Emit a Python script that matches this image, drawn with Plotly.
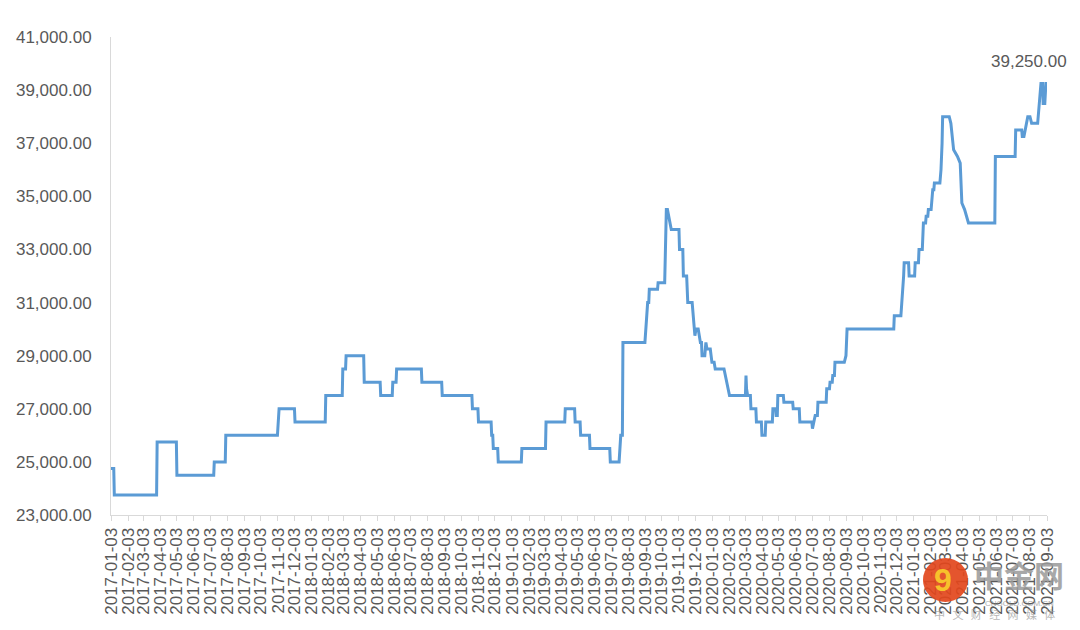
import plotly.graph_objects as go

# daily price path (change points only)
dates = [
    # 2017
    "2017-01-03", "2017-01-08", "2017-01-09", "2017-03-27", "2017-03-28", "2017-05-02",
    "2017-05-03", "2017-07-09", "2017-07-10", "2017-07-30", "2017-07-31", "2017-11-02",
    "2017-11-05", "2017-12-03", "2017-12-04",
    # 2018
    "2018-01-28", "2018-01-29", "2018-02-28", "2018-03-01", "2018-03-06", "2018-03-07",
    "2018-04-08", "2018-04-09", "2018-05-08", "2018-05-09", "2018-05-30", "2018-05-31",
    "2018-06-06", "2018-06-07", "2018-07-22", "2018-07-23", "2018-08-28", "2018-08-29",
    "2018-10-22", "2018-10-23", "2018-11-02", "2018-11-03", "2018-11-26", "2018-11-27",
    "2018-11-29", "2018-11-30", "2018-12-08", "2018-12-09",
    # 2019
    "2019-01-20", "2019-01-21", "2019-03-05", "2019-03-06", "2019-04-09", "2019-04-10",
    "2019-04-27", "2019-04-28", "2019-05-07", "2019-05-08", "2019-05-24", "2019-05-25",
    "2019-06-30", "2019-07-01", "2019-07-17", "2019-07-20", "2019-07-23", "2019-07-24",
    "2019-09-02", "2019-09-07", "2019-09-09", "2019-09-10", "2019-09-25", "2019-09-26",
    "2019-10-08", "2019-10-11", "2019-10-13", "2019-10-20", "2019-11-03", "2019-11-04",
    "2019-11-10", "2019-11-11", "2019-11-17", "2019-11-18", "2019-11-19", "2019-11-27",
    "2019-11-29", "2019-12-02", "2019-12-04", "2019-12-08", "2019-12-10", "2019-12-12",
    "2019-12-14", "2019-12-15", "2019-12-20", "2019-12-22", "2019-12-24", "2019-12-30",
    # 2020
    "2020-01-02", "2020-01-06", "2020-01-08", "2020-01-24", "2020-02-03", "2020-03-03",
    "2020-03-04", "2020-03-05", "2020-03-07", "2020-03-12", "2020-03-13", "2020-03-22",
    "2020-03-23", "2020-04-01", "2020-04-02", "2020-04-08", "2020-04-09", "2020-04-21",
    "2020-04-22", "2020-04-27", "2020-04-28", "2020-04-30", "2020-05-01", "2020-05-11",
    "2020-05-12", "2020-05-28", "2020-05-29", "2020-06-09", "2020-06-10", "2020-07-02",
    "2020-07-03", "2020-07-05", "2020-07-08", "2020-07-12", "2020-07-13", "2020-07-28",
    "2020-07-29", "2020-08-03", "2020-08-04", "2020-08-08", "2020-08-09", "2020-08-12",
    "2020-08-13", "2020-08-30", "2020-09-02", "2020-09-04", "2020-11-28", "2020-11-29",
    "2020-12-11", "2020-12-16", "2020-12-17", "2020-12-25", "2020-12-26",
    # 2021
    "2021-01-05", "2021-01-06", "2021-01-12", "2021-01-13", "2021-01-19", "2021-01-21",
    "2021-01-25", "2021-01-26", "2021-01-29", "2021-01-30", "2021-02-04", "2021-02-07",
    "2021-02-09", "2021-02-10", "2021-02-20", "2021-02-22", "2021-02-24", "2021-02-25",
    "2021-03-09", "2021-03-12", "2021-03-17", "2021-03-24", "2021-03-29", "2021-04-01",
    "2021-04-06", "2021-04-10", "2021-04-13", "2021-05-31", "2021-06-01", "2021-07-07",
    "2021-07-08", "2021-07-19", "2021-07-20", "2021-07-23", "2021-07-30", "2021-08-03",
    "2021-08-06", "2021-08-17", "2021-08-20", "2021-08-23", "2021-08-26", "2021-08-27",
    "2021-08-30", "2021-09-01", "2021-09-03",
]

prices = [
    # 2017
    24750, 24750, 23750, 23750, 25750, 25750,
    24500, 24500, 25000, 25000, 26000, 26000,
    27000, 27000, 26500,
    # 2018
    26500, 27500, 27500, 28500, 28500, 29000,
    29000, 28000, 28000, 27500, 27500, 28000,
    28000, 28500, 28500, 28000, 28000, 27500,
    27500, 27000, 27000, 26500, 26500, 26000,
    26000, 25500, 25500, 25000,
    # 2019
    25000, 25500, 25500, 26500, 26500, 27000,
    27000, 26500, 26500, 26000, 26000, 25500,
    25500, 25000, 25000, 26000, 26000, 29500,
    29500, 31000, 31000, 31500, 31500, 31750,
    31750, 34500, 34500, 33750, 33750, 33000,
    33000, 32000, 32000, 31500, 31000, 31000,
    30500, 29750, 30000, 30000, 29750, 29500,
    29500, 29000, 29000, 29500, 29250, 29250,
    # 2020
    28750, 28750, 28500, 28500, 27500, 27500,
    28250, 27750, 27500, 27500, 27000, 27000,
    26500, 26500, 26000, 26000, 26500, 26500,
    27000, 27000, 26750, 26750, 27500, 27500,
    27250, 27250, 27000, 27000, 26500, 26500,
    26250, 26500, 26750, 26750, 27250, 27250,
    27750, 27750, 28000, 28000, 28250, 28250,
    28750, 28750, 29000, 30000, 30000, 30500,
    30500, 32000, 32500, 32500, 32000,
    # 2021
    32000, 32500, 32500, 33000, 33000, 34000,
    34000, 34250, 34250, 34500, 34500, 35250,
    35250, 35500, 35500, 36000, 37000, 38000,
    38000, 37750, 36750, 36500, 36250, 34750,
    34500, 34250, 34000, 34000, 36500, 36500,
    37500, 37500, 37250, 37250, 38000, 38000,
    37750, 37750, 38500, 39250, 39250, 38500,
    38500, 39250, 39250,
]

assert len(dates) == len(prices)

LINE_BLUE = "#5B9BD5"
TEXT_GREY = "#595959"
AXIS_GREY = "#D9D9D9"
FONT = "Liberation Sans"
CJK = "Noto Sans CJK SC"

fig = go.Figure()
fig.add_trace(
    go.Scatter(
        x=dates,
        y=prices,
        mode="lines",
        line=dict(color=LINE_BLUE, width=3),
        hoverinfo="x+y",
    )
)

# label on the last point
fig.add_annotation(
    x=dates[-1],
    y=prices[-1],
    text=f"{prices[-1]:,.2f}",
    showarrow=False,
    xanchor="center",
    yanchor="bottom",
    xshift=-18,
    yshift=10,
    font=dict(family=FONT, size=17, color=TEXT_GREY),
)

# watermark in the bottom-right corner (sits over the tick labels)
fig.add_shape(
    type="circle", xref="paper", yref="paper",
    x0=0.8675, x1=0.9156, y0=-0.182, y1=-0.090,
    fillcolor="#E2471C", line=dict(width=0), opacity=0.92,
)
watermark_texts = [
    # (x, y, text, family, size, colour, opacity)
    (0.889, -0.136, "<b>9</b>", FONT, 32, "#F7C12B", 1.0),
    (0.970, -0.124, "<b>中金网</b>", CJK, 30, "#9A9A9A", 0.85),
    (0.971, -0.186, "CNGOLD.COM.CN", FONT, 8, "#8A8A8A", 0.7),
    (0.944, -0.207,
     "中&nbsp;&nbsp;&nbsp;文&nbsp;&nbsp;&nbsp;财&nbsp;&nbsp;&nbsp;经"
     "&nbsp;&nbsp;&nbsp;网&nbsp;&nbsp;&nbsp;媒&nbsp;&nbsp;&nbsp;体",
     CJK, 11, "#9A9A9A", 0.7),
]
for wx, wy, wtext, wfam, wsize, wcol, wop in watermark_texts:
    fig.add_annotation(
        xref="paper", yref="paper", x=wx, y=wy,
        xanchor="center", yanchor="middle",
        text=wtext, showarrow=False, opacity=wop,
        font=dict(family=wfam, size=wsize, color=wcol),
    )

# the page body adds an 8px offset, so the figure is drawn 8px smaller
fig.update_layout(
    width=1072,
    height=622,
    margin=dict(l=103, r=33, t=29, b=115),
    plot_bgcolor="white",
    paper_bgcolor="white",
    showlegend=False,
    font=dict(family=FONT, color=TEXT_GREY),
)

fig.update_xaxes(
    type="date",
    range=[dates[0], dates[-1]],
    tick0=dates[0],
    dtick="M1",
    tickformat="%Y-%m-%d",
    tickangle=-90,
    ticks="outside",
    ticklen=5,
    tickcolor=AXIS_GREY,
    showline=True,
    linecolor=AXIS_GREY,
    linewidth=1,
    showgrid=False,
    zeroline=False,
    automargin=False,
    tickfont=dict(family=FONT, size=17, color=TEXT_GREY),
)

fig.update_yaxes(
    range=[23000, 41000],
    tick0=23000,
    dtick=2000,
    tickformat=",.2f",
    showline=True,
    linecolor=AXIS_GREY,
    linewidth=1,
    showgrid=False,
    zeroline=False,
    ticks="",
    ticklabelstandoff=15,
    automargin=False,
    tickfont=dict(family=FONT, size=17, color=TEXT_GREY),
)

fig.write_html("out.html")
